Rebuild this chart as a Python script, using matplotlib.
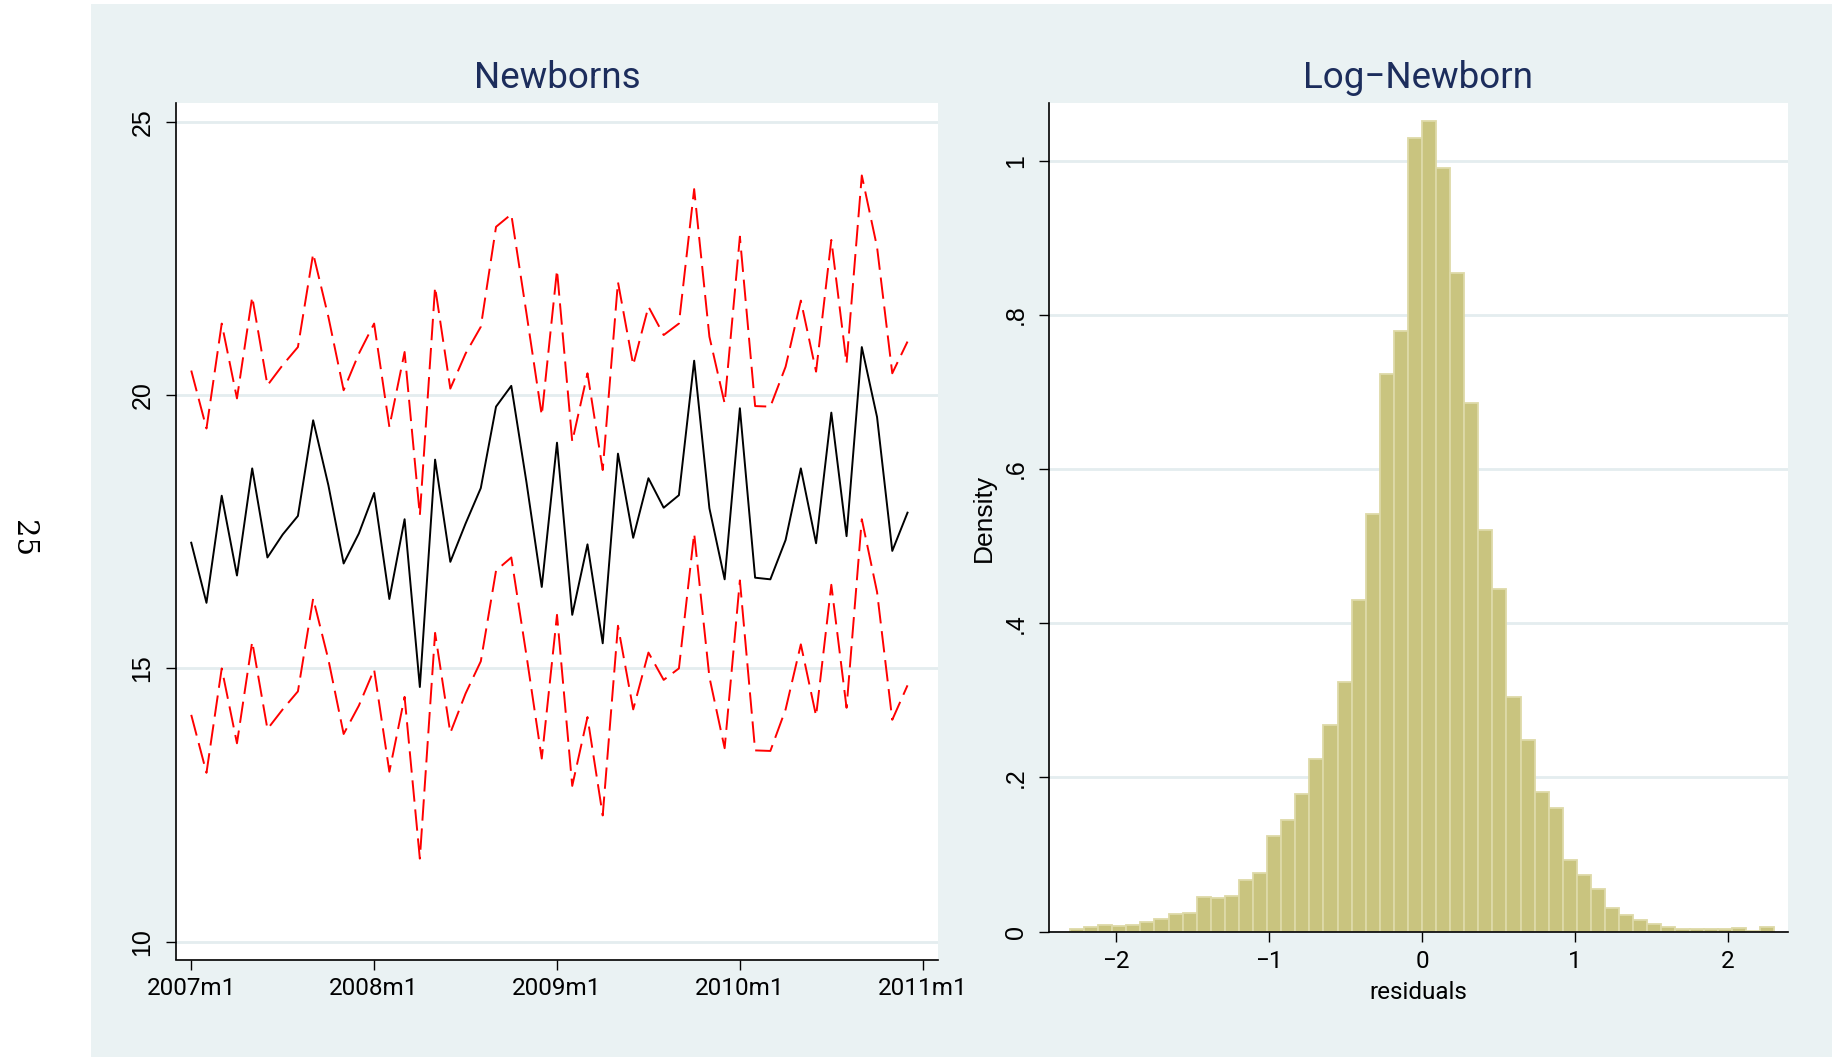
import numpy as np
import matplotlib
matplotlib.use("Agg")
import matplotlib.pyplot as plt
from matplotlib.patches import Rectangle
from matplotlib import font_manager as fm

# ---------------- data ----------------
newborns = [17.30, 16.20, 18.16, 16.70, 18.66, 17.03, 17.45, 17.79, 19.54, 18.35,
            16.92, 17.47, 18.21, 16.27, 17.73, 14.66, 18.82, 16.95, 17.65, 18.30,
            19.79, 20.17, 18.40, 16.49, 19.13, 15.98, 17.27, 15.46, 18.93, 17.39,
            18.48, 17.94, 18.17, 20.63, 17.93, 16.63, 19.76, 16.66, 16.63, 17.35,
            18.66, 17.29, 19.68, 17.42, 20.88, 19.60, 17.15, 17.85]
upper_band = [20.45, 19.39, 21.31, 19.94, 21.80, 20.18, 20.55, 20.88, 22.59, 21.43,
              20.09, 20.76, 21.31, 19.42, 20.79, 17.80, 21.98, 20.12, 20.76, 21.25,
              23.08, 23.31, 21.49, 19.63, 22.29, 19.15, 20.40, 18.63, 22.07, 20.55,
              21.62, 21.10, 21.31, 23.77, 21.07, 19.85, 22.90, 19.80, 19.79, 20.52,
              21.73, 20.43, 22.84, 20.58, 24.02, 22.71, 20.40, 20.98]
lower_band = [14.15, 13.09, 15.00, 13.63, 15.49, 13.89, 14.25, 14.58, 16.28, 15.16,
              13.80, 14.32, 14.98, 13.11, 14.48, 11.52, 15.65, 13.82, 14.54, 15.13,
              16.79, 17.03, 15.23, 13.35, 15.98, 12.85, 14.11, 12.31, 15.78, 14.25,
              15.29, 14.79, 15.00, 17.47, 14.84, 13.54, 16.61, 13.50, 13.49, 14.25,
              15.44, 14.13, 16.53, 14.28, 17.73, 16.40, 14.06, 14.69]
months = [f"{2007 + i // 12}m{i % 12 + 1}" for i in range(48)]
xtick_labels = ["2007m1", "2008m1", "2009m1", "2010m1", "2011m1"]
left_yticks = [10, 15, 20, 25]

hist_left_edge = -2.3025
hist_bin_width = 0.0921
density = [0.003, 0.006, 0.008, 0.007, 0.008, 0.013, 0.016, 0.023, 0.024, 0.045,
           0.044, 0.046, 0.067, 0.076, 0.124, 0.145, 0.178, 0.224, 0.268, 0.324,
           0.430, 0.542, 0.723, 0.779, 1.029, 1.052, 0.991, 0.854, 0.686, 0.521,
           0.444, 0.304, 0.248, 0.181, 0.160, 0.093, 0.073, 0.055, 0.031, 0.022,
           0.015, 0.010, 0.006, 0.004, 0.004, 0.003, 0.003, 0.005, 0.001, 0.006]
right_xticks = [-2, -1, 0, 1, 2]
right_xtick_labels = ["\u22122", "\u22121", "0", "1", "2"]
right_yticks = [0, 0.2, 0.4, 0.6, 0.8, 1.0]
right_ytick_labels = ["0", ".2", ".4", ".6", ".8", "1"]


def month_index(label):
    y, m = label.split("m")
    return (int(y) - 2007) * 12 + int(m) - 1


# ---------------- fonts ----------------
names = {f.name for f in fm.fontManager.ttflist}
NARROW = "Roboto"
for cand in ["Liberation Sans Narrow", "Arial Narrow", "Roboto"]:
    if cand in names:
        NARROW = cand
        break
REG = "Liberation Sans"
SERIF = "DejaVu Serif"

BG = "#EAF2F3"
GRID = "#E4EDEF"
TITLE_C = "#1C2D5C"

W, H = 1832, 1057
fig = plt.figure(figsize=(W / 100, H / 100), dpi=100, facecolor="white")

# graph region background
fig.patches.append(Rectangle((91 / W, 0), 1 - 91 / W, (H - 4) / H,
                             transform=fig.transFigure, facecolor=BG,
                             edgecolor="none", zorder=-10))
# page number at left
fig.text(22.5 / W, 1 - 539 / H, "25", rotation=-90, ha="center", va="center",
         family=SERIF, fontsize=21, color="black")


def style_axes(ax):
    ax.set_facecolor("white")
    for s in ["top", "right"]:
        ax.spines[s].set_visible(False)
    for s in ["left", "bottom"]:
        ax.spines[s].set_linewidth(1.2)
        ax.spines[s].set_color("black")
    ax.tick_params(direction="out", length=7.5, width=1.0, color="black")
    ax.set_axisbelow(True)
    ax.grid(axis="y", color=GRID, linewidth=2.0)
    ax.grid(axis="x", visible=False)


# ---------------- left: Newborns ----------------
axL = fig.add_axes([176 / W, 1 - 959.5 / H, (938 - 176) / W, (959.5 - 103.3) / H])
style_axes(axL)
x = [month_index(m) for m in months]
axL.plot(x, upper_band, color="#FF0000", linewidth=1.4, dashes=(11, 4))
axL.plot(x, lower_band, color="#FF0000", linewidth=1.4, dashes=(11, 4))
axL.plot(x, newborns, color="black", linewidth=1.4)
axL.set_xlim(-1, 49)
axL.set_ylim(9.674, 25.34)
axL.set_xticks([month_index(t) for t in xtick_labels])
axL.set_xticklabels(xtick_labels, family=NARROW, fontsize=17.5)
axL.set_yticks(left_yticks)
axL.set_yticklabels([str(v) for v in left_yticks], rotation=90, va="center",
                    family=REG, fontsize=18)
axL.tick_params(axis="x", pad=5)
axL.tick_params(axis="y", pad=8)
axL.set_title("Newborns", family=NARROW, fontsize=26.5, color=TITLE_C, pad=11)

# ---------------- right: Log-Newborn ----------------
axR = fig.add_axes([1049 / W, 1 - 931.6 / H, (1788 - 1049) / W, (931.6 - 103.3) / H])
style_axes(axR)
lefts = [hist_left_edge + i * hist_bin_width for i in range(len(density))]
axR.bar(lefts, density, width=hist_bin_width, align="edge",
        color="#C9C47F", edgecolor="#DEDAA8", linewidth=1.3, zorder=2)
axR.set_xlim(-2.44, 2.394)
axR.set_ylim(0, 1.0745)
axR.set_xticks(right_xticks)
axR.set_xticklabels(right_xtick_labels, family=NARROW, fontsize=17.5)
axR.set_yticks(right_yticks)
axR.set_yticklabels(right_ytick_labels, rotation=90, va="center",
                    family=REG, fontsize=18)
axR.tick_params(axis="x", pad=5.5)
axR.tick_params(axis="y", pad=7.5)
axR.set_xlabel("residuals", family=NARROW, fontsize=17.5, labelpad=6)
axR.set_ylabel("Density", family=REG, fontsize=19, labelpad=6)
axR.set_title("Log\u2212Newborn", family=NARROW, fontsize=26.5, color=TITLE_C, pad=11)

fig.savefig("out.png", dpi=100, facecolor="white")
